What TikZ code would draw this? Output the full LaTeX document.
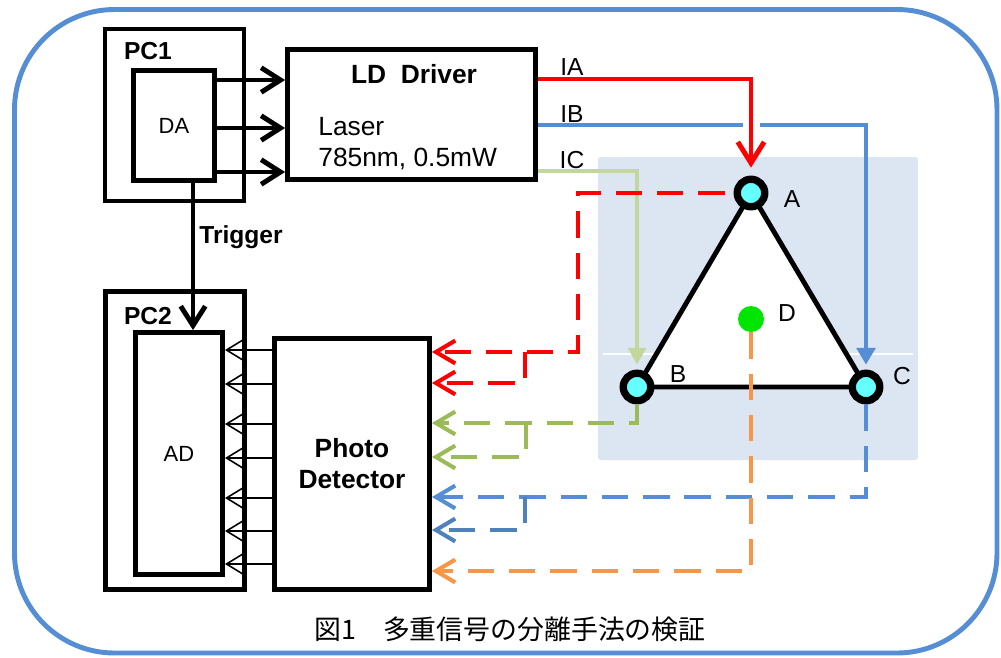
\documentclass[tikz,border=0pt]{standalone}
\usepackage{fontspec}
\setmainfont{Liberation Sans}
\newfontfamily\jpfont{Noto Sans CJK JP}
\usetikzlibrary{arrows.meta,backgrounds}
\definecolor{frameblue}{RGB}{85,142,213}
\definecolor{panelblue}{RGB}{220,230,242}
\definecolor{sigred}{RGB}{255,0,0}
\definecolor{sigblue}{RGB}{85,142,213}
\definecolor{sigdarkblue}{RGB}{79,129,189}
\definecolor{siglightgreen}{RGB}{195,214,155}
\definecolor{siggreen}{RGB}{155,187,89}
\definecolor{sigorange}{RGB}{247,150,70}
\definecolor{sensorcyan}{RGB}{102,255,255}
\definecolor{dotgreen}{RGB}{0,230,0}
\tikzset{
  unitbox/.style={
    draw,
    line width=2.8pt,
    inner sep=0pt,
    align=center
  },
  boldtext/.style={font=\fontsize{14}{17}\selectfont\bfseries, inner sep=0pt},
  plaintext/.style={font=\fontsize{14}{17}\selectfont, inner sep=0pt},
  sensor/.style={circle, draw, line width=4.2pt, fill=sensorcyan, minimum size=0.55cm, inner sep=0pt},
  thickarrow/.style={-{Straight Barb[length=11pt,width=14pt]}, line width=2.8pt},
  thinarrow/.style={-{Straight Barb[length=9pt,width=11pt]}, line width=0.9pt},
  sigline/.style={line width=2.8pt},
  retline/.style={line width=2.3pt, dash pattern=on 15pt off 8.5pt,
    -{Straight Barb[length=11pt,width=13pt]}}
}
\begin{document}
\begin{tikzpicture}[x=0.02cm,y=-0.02cm]
  \useasboundingbox (0,0) rectangle (1001,657);
  \draw[frameblue, line width=2.8pt, rounded corners=2cm] (14.5,9.5) rectangle (997,653);

  % computers
  \node[unitbox,minimum width=2.78cm,minimum height=3.44cm] (pc1) at (174.5,115) {};
  \node[boldtext] (pc1lbl) at (148,51) {PC1};
  \node[unitbox,minimum width=1.62cm,minimum height=2.2cm,font=\fontsize{12.5}{15}\selectfont] (da) at (174,125.5) {DA};
  \node[unitbox,minimum width=2.78cm,minimum height=5.96cm] (pc2) at (175,440.5) {};
  \node[boldtext] (pc2lbl) at (148,316) {PC2};
  \node[unitbox,minimum width=1.74cm,minimum height=4.84cm,font=\fontsize{12.5}{15}\selectfont] (ad) at (179,453.5) {AD};

  % driver and detector
  \node[unitbox,minimum width=4.96cm,minimum height=2.6cm] (ld) at (411.5,114.5) {};
  \node[boldtext,font=\fontsize{15}{18}\selectfont\bfseries] (ldtitle) at (414,74) {LD\ \ Driver};
  \node[plaintext,font=\fontsize{15}{17.6}\selectfont,anchor=west,align=left] (ldlaser) at (318,143.5) {Laser\\785nm, 0.5mW};
  \node[unitbox,minimum width=3.1cm,minimum height=5.02cm,font=\fontsize{15}{17.6}\selectfont\bfseries] (pd) at (352,464) {Photo\\Detector};

  \foreach \yy in {80,128,172}
    \draw[thickarrow] (da.east |- 0,\yy) -- (ld.west |- 0,\yy);
  \draw[thickarrow] (da.south -| 193,0) -- (ad.north -| 193,0);
  \node[boldtext,anchor=west] (trig) at (199,237) {Trigger};
  \foreach \yy in {350,384,424,458,498,531,564}
    \draw[thinarrow] (pd.west |- 0,\yy) -- (ad.east |- 0,\yy);

  % sensor triangle
  \node[sensor] (A) at (751,193) {};
  \node[sensor] (B) at (637,387) {};
  \node[sensor] (C) at (866,387) {};
  \node[circle,fill=dotgreen,minimum size=0.52cm,inner sep=0pt] (D) at (751,319) {};
  \node[plaintext] (lblA) at (792,199) {A};
  \node[plaintext] (lblB) at (678,374) {B};
  \node[plaintext] (lblC) at (902,376) {C};
  \node[plaintext] (lblD) at (787,313) {D};
  \begin{scope}[on background layer]
    \fill[panelblue,rounded corners=1.5pt] (598,157) rectangle (918,460);
    \draw[white,line width=0.6pt] (603,354) -- (913,354);
    \draw[line width=2.8pt,fill=white] (A.center) -- (B.center) -- (C.center) -- cycle;
  \end{scope}

  % drive currents
  \node[plaintext] (lblIA) at (572,67) {IA};
  \node[plaintext] (lblIB) at (572,114) {IB};
  \node[plaintext] (lblIC) at (572,160) {IC};
  \draw[sigline,sigred,shorten >=4.5pt,-{Straight Barb[length=12pt,width=15pt]}]
    (ld.east |- 0,79) -- (A |- 0,79) -- (A);
  \draw[sigline,sigblue] (ld.east |- 0,125) -- (743,125);
  \draw[sigline,sigblue,shorten >=2.8pt,-{Triangle[length=9.5pt,width=10.5pt]}]
    (760,125) -- (C |- 0,125) -- (C);
  \draw[line width=2.3pt,siglightgreen,shorten >=2.8pt,-{Triangle[length=9.5pt,width=10pt]}]
    (ld.east |- 0,171) -- (B |- 0,171) -- (B);

  % returned signals
  \coordinate (redsplit) at (525,352);
  \coordinate (greensplit) at (526,423);
  \coordinate (bluesplit) at (525,497);
  \draw[retline,sigred,shorten <=5pt] (A) -- (578,193) -- (578,352) -- (pd.east |- 0,352);
  \draw[retline,sigred] (redsplit) -- (redsplit |- 0,383) -- (pd.east |- 0,383);
  \draw[retline,siggreen] (B) -- (B |- 0,423) -- (pd.east |- 0,423);
  \draw[retline,siggreen] (greensplit) -- (greensplit |- 0,457) -- (pd.east |- 0,457);
  \draw[retline,sigblue] (C) -- (C |- 0,497) -- (pd.east |- 0,497);
  \draw[retline,sigdarkblue] (bluesplit) -- (bluesplit |- 0,530) -- (pd.east |- 0,530);
  \draw[retline,sigorange] (D) -- (D |- 0,571) -- (pd.east |- 0,571);

  \node[font=\jpfont\fontsize{15.3}{18}\selectfont,inner sep=0pt] (caption) at (510,629) {図1　多重信号の分離手法の検証};
\end{tikzpicture}
\end{document}
